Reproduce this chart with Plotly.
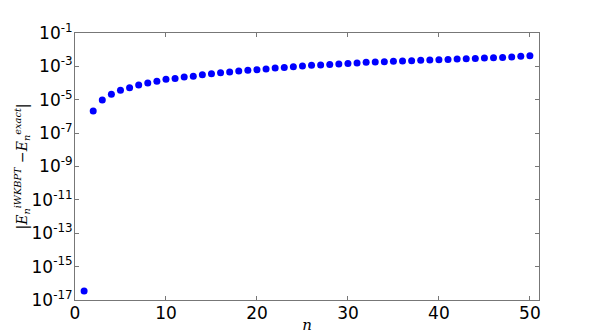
import plotly.graph_objects as go

n_values = list(range(1, 51))
abs_error = [
    3.5e-17, 2.1e-6, 9.8e-6, 2.1e-5, 3.7e-5, 5.3e-5, 7.6e-5, 1.0e-4, 1.3e-4, 1.7e-4,
    1.9e-4, 2.3e-4, 2.6e-4, 3.2e-4, 3.6e-4, 4.2e-4, 4.6e-4, 5.2e-4, 5.8e-4, 6.3e-4,
    6.9e-4, 7.9e-4, 8.7e-4, 9.5e-4, 1.05e-3, 1.15e-3, 1.2e-3, 1.3e-3, 1.37e-3, 1.5e-3,
    1.58e-3, 1.74e-3, 1.8e-3, 1.9e-3, 2.0e-3, 2.1e-3, 2.2e-3, 2.3e-3, 2.4e-3, 2.5e-3,
    2.6e-3, 2.75e-3, 2.9e-3, 3.0e-3, 3.15e-3, 3.3e-3, 3.45e-3, 3.6e-3, 4.0e-3, 4.4e-3,
]
y_tick_exponents = [-1, -3, -5, -7, -9, -11, -13, -15, -17]
x_ticks = [0, 10, 20, 30, 40, 50]

font = "DejaVu Sans, sans-serif"

fig = go.Figure(go.Scatter(
    x=n_values, y=abs_error, mode="markers",
    marker=dict(color="#0000ff", size=7, line=dict(width=0)),
))

axis_style = dict(
    showline=True, linecolor="#777777", linewidth=1, mirror="allticks",
    ticks="inside", ticklen=4, tickcolor="#777777", showgrid=False, zeroline=False,
    tickfont=dict(family=font, size=17, color="black"), automargin=False,
)

fig.update_xaxes(
    range=[0, 51], tickvals=x_ticks, ticktext=[str(v) for v in x_ticks],
    title=dict(text="<i>n</i>", font=dict(family="DejaVu Serif, serif", size=15, color="black"), standoff=0),
    ticklabelstandoff=-2,
    **axis_style,
)
fig.update_yaxes(
    type="log", range=[-17, -1],
    tickvals=[10 ** e for e in y_tick_exponents],
    ticktext=["10<sup>%d</sup>" % e for e in y_tick_exponents],
    title=dict(
        text="|<i>E</i><sub><i>n</i></sub><sup><i>iWKBPT</i></sup> \u2212<i>E</i><sub><i>n</i></sub><sup><i>exact</i></sup>|",
        font=dict(family="DejaVu Serif, serif", size=14, color="black"), standoff=0,
    ),
    ticklabelstandoff=-2,
    **axis_style,
)

# the page body adds an 8px offset, so the figure is shrunk by that much
fig.update_layout(
    width=591, height=326, plot_bgcolor="white", paper_bgcolor="white",
    margin=dict(l=67, r=60, t=25, b=34), showlegend=False,
)

fig.write_html("out.html")
